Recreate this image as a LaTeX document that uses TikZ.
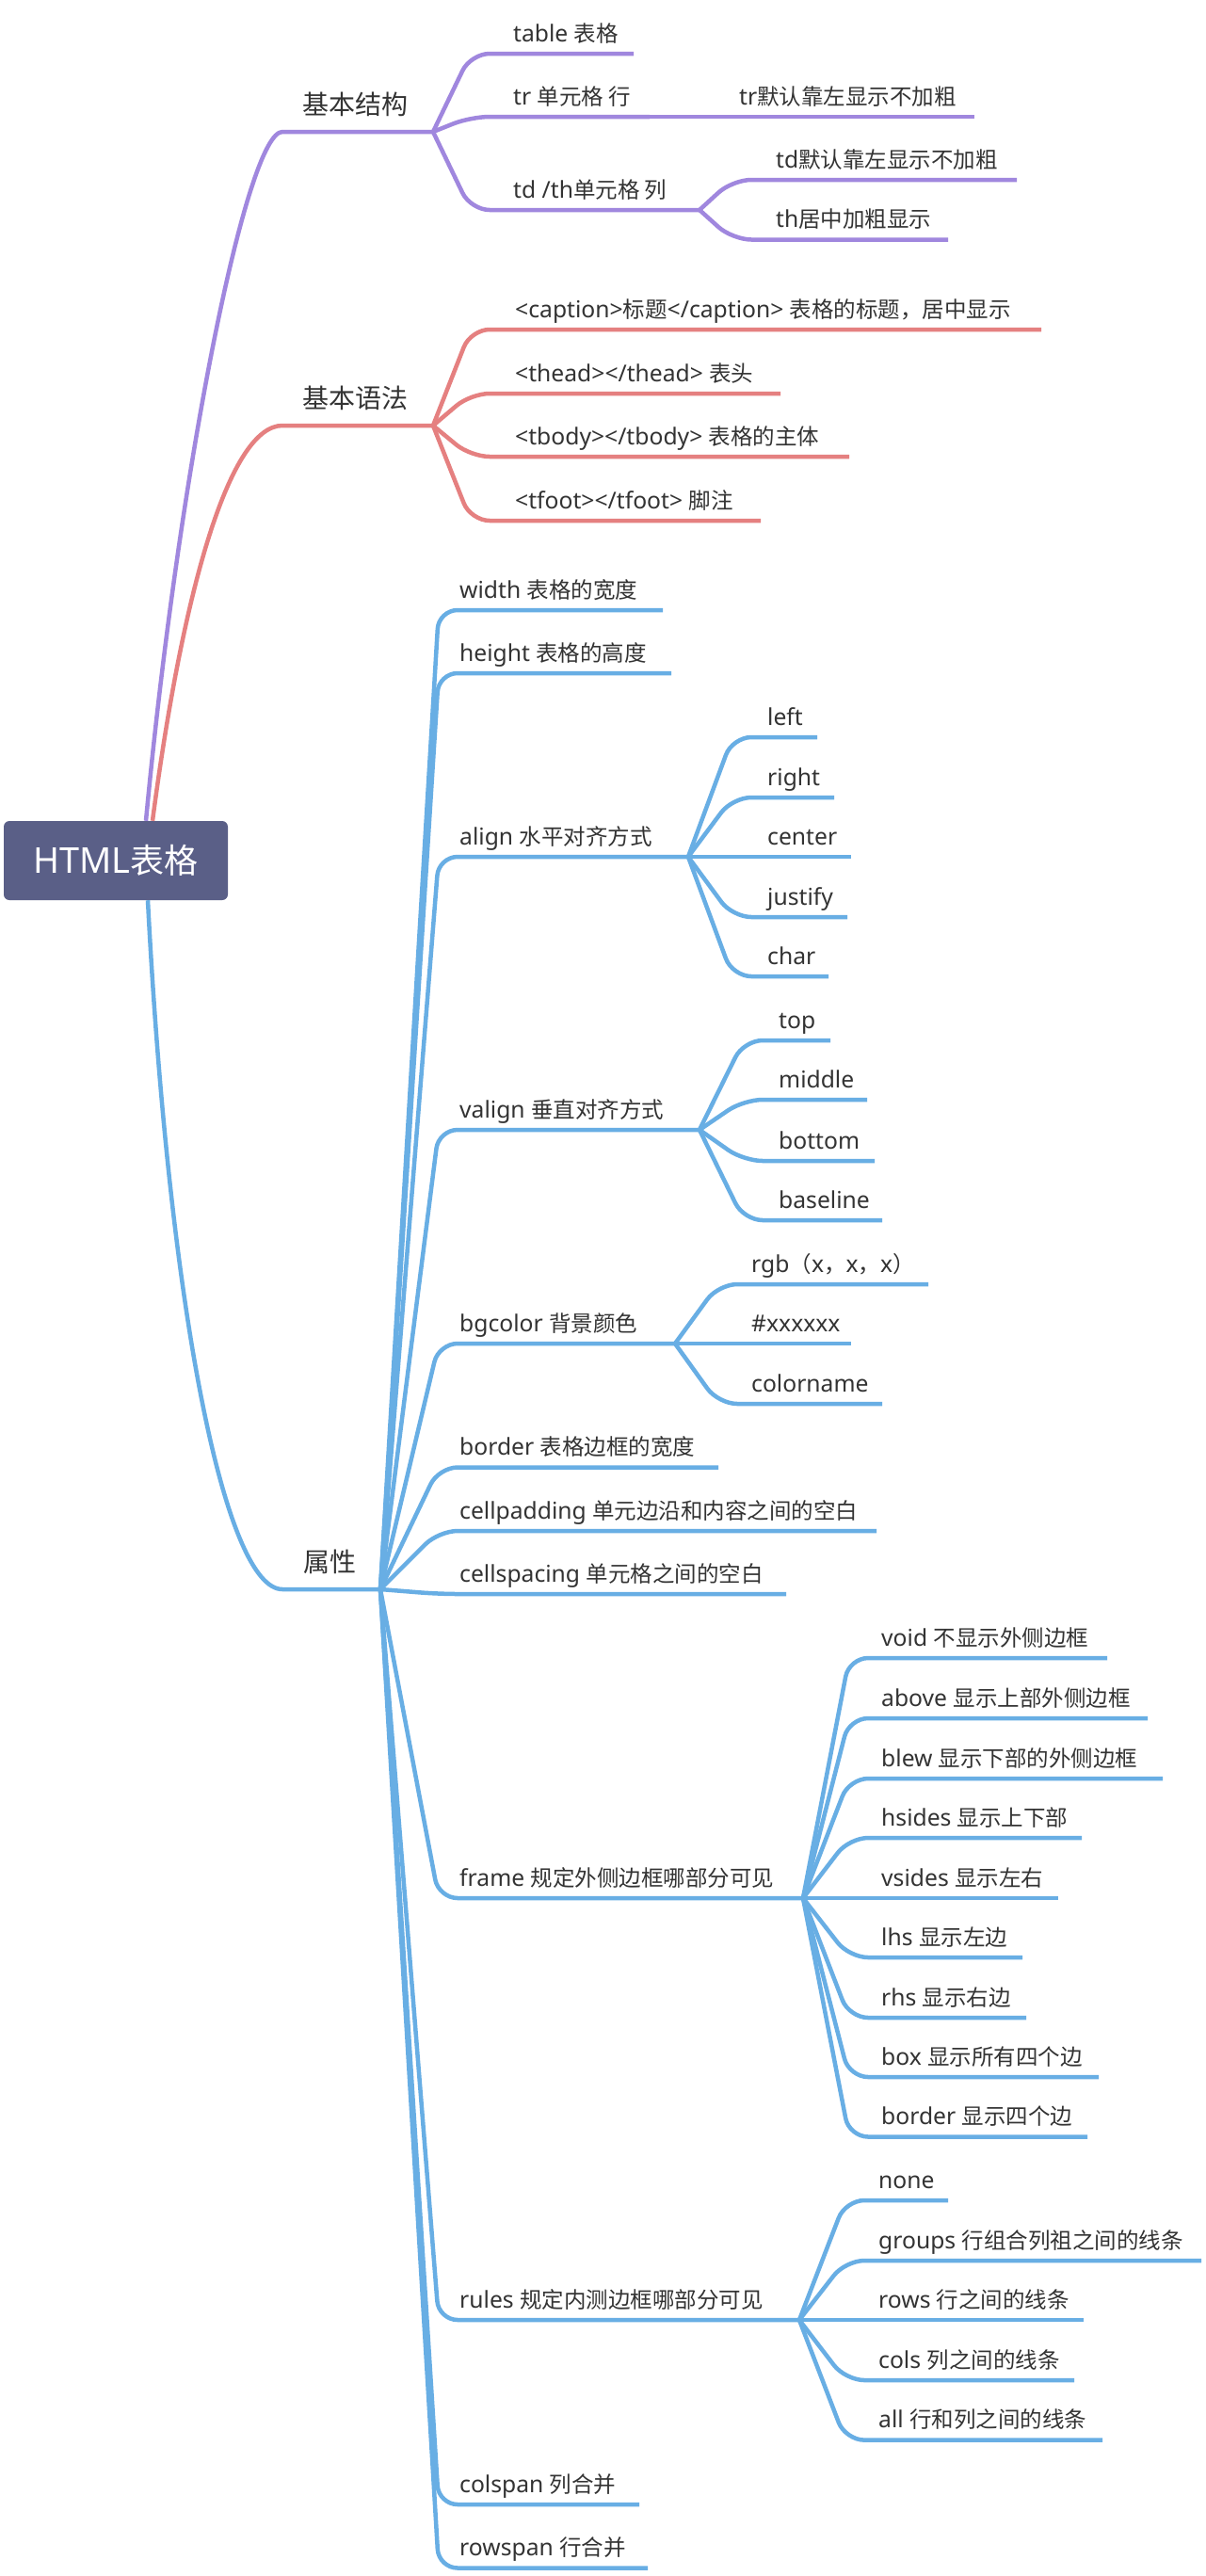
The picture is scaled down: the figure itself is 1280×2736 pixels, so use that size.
\documentclass[tikz,border=0pt]{standalone}
\usepackage{fontspec}
\setmainfont{Noto Sans CJK SC}
\newfontfamily\lat[Scale=1.05]{Noto Sans}
\definecolor{pur}{HTML}{A087DE}
\definecolor{mmred}{HTML}{E58080}
\definecolor{mmblue}{HTML}{68AEE4}
\definecolor{rootc}{HTML}{5A5F87}
\definecolor{txt}{HTML}{333333}
\tikzset{
  conn/.style={line width=4.5pt, rounded corners=20pt, line join=round},
  trunk/.style={line width=4.5pt, line join=round},
  leaf/.style={font=\fontsize{23.5}{28}\selectfont, text=txt, inner sep=0pt, anchor=base west},
  lone/.style={font=\fontsize{28}{32}\selectfont, text=txt, inner sep=0pt, anchor=base west},
  rootbox/.style={fill=rootc, rounded corners=6pt, minimum width=238pt, minimum height=84pt,
    text=white, font=\fontsize{36}{40}\selectfont, inner sep=0pt}
}
\newcommand\mmsub[8]{%
  \coordinate (#1-c) at (#4,#5);
  \coordinate (#1-e) at (#6,#5);
  \draw[conn,#3] (#2) -- (#1-c) -- (#1-e);
  \node[leaf] (#1) at (#7,#5-13) {#8};
}
\begin{document}
\begin{tikzpicture}[x=1pt,y=-1pt]
\useasboundingbox (0,0) rectangle (1280,2736);
\fill[white] (0,0) rectangle (1280,2736);

% root
\node[rootbox] (root) at (123,914) {{\lat HTML}表格};

% level 1
\coordinate (jg-s) at (300,140);
\coordinate (jg-e) at (460,140);
\coordinate (yf-s) at (300,452);
\coordinate (yf-e) at (460,452);
\coordinate (sx-s) at (300,1688);
\coordinate (sx-e) at (404,1688);

\draw[trunk,pur] ([xshift=32pt]root.north) .. controls (190,500) and (262,140) .. (jg-s) -- (jg-e);
\draw[trunk,mmred] ([xshift=39pt]root.north) .. controls (195,620) and (245,452) .. (yf-s) -- (yf-e);
\draw[trunk,mmblue] ([xshift=34pt]root.south) .. controls (180,1400) and (240,1688) .. (sx-s) -- (sx-e);

\node[lone] (jg) at (321,121) {基本结构};
\node[lone] (yf) at (321,433) {基本语法};
\node[lone] (sx) at (322,1669) {属性};

% 基本结构
\mmsub{table}{jg-e}{pur}{500}{57}{673}{545}{{\lat table }表格}
\mmsub{tr}{jg-e}{pur}{500}{124}{690}{545}{{\lat tr }单元格 行}
\mmsub{td}{jg-e}{pur}{500}{223}{743}{545}{{\lat td /th}单元格 列}
\mmsub{trd}{tr-e}{pur}{720}{124}{1035}{785}{{\lat tr}默认靠左显示不加粗}
\mmsub{tdd}{td-e}{pur}{778}{191}{1080}{824}{{\lat td}默认靠左显示不加粗}
\mmsub{thd}{td-e}{pur}{778}{254.5}{1007}{824}{{\lat th}居中加粗显示}

% 基本语法
\mmsub{cap}{yf-e}{mmred}{500}{350}{1106}{547}{{\lat <caption>}标题{\lat </caption> }表格的标题，居中显示}
\mmsub{thead}{yf-e}{mmred}{500}{418}{829}{547}{{\lat <thead></thead> }表头}
\mmsub{tbody}{yf-e}{mmred}{500}{485}{902}{547}{{\lat <tbody></tbody> }表格的主体}
\mmsub{tfoot}{yf-e}{mmred}{500}{553}{808}{547}{{\lat <tfoot></tfoot> }脚注}

% 属性
\mmsub{width}{sx-e}{mmblue}{466}{648}{704}{488}{{\lat width }表格的宽度}
\mmsub{height}{sx-e}{mmblue}{466}{715}{713}{488}{{\lat height }表格的高度}
\mmsub{align}{sx-e}{mmblue}{466}{910}{731}{488}{{\lat align }水平对齐方式}
\mmsub{valign}{sx-e}{mmblue}{466}{1200}{743}{488}{{\lat valign }垂直对齐方式}
\mmsub{bg}{sx-e}{mmblue}{466}{1427}{717}{488}{{\lat bgcolor }背景颜色}
\mmsub{border}{sx-e}{mmblue}{466}{1558.5}{763}{488}{{\lat border }表格边框的宽度}
\mmsub{cpad}{sx-e}{mmblue}{466}{1626}{931}{488}{{\lat cellpadding }单元边沿和内容之间的空白}
\mmsub{cspc}{sx-e}{mmblue}{466}{1693}{835}{488}{{\lat cellspacing }单元格之间的空白}
\mmsub{frame}{sx-e}{mmblue}{466}{2016}{853}{488}{{\lat frame }规定外侧边框哪部分可见}
\mmsub{rules}{sx-e}{mmblue}{466}{2464}{849}{488}{{\lat rules }规定内测边框哪部分可见}
\mmsub{cspan}{sx-e}{mmblue}{466}{2660}{679}{488}{{\lat colspan }列合并}
\mmsub{rspan}{sx-e}{mmblue}{466}{2727.5}{688}{488}{{\lat rowspan }行合并}

% align
\mmsub{al-left}{align-e}{mmblue}{778}{783}{868}{815}{{\lat left}}
\mmsub{al-right}{align-e}{mmblue}{778}{847}{886}{815}{{\lat right}}
\mmsub{al-center}{align-e}{mmblue}{778}{910}{904}{815}{{\lat center}}
\mmsub{al-justify}{align-e}{mmblue}{778}{974}{900}{815}{{\lat justify}}
\mmsub{al-char}{align-e}{mmblue}{778}{1037}{880}{815}{{\lat char}}

% valign
\mmsub{va-top}{valign-e}{mmblue}{790}{1105}{882}{827}{{\lat top}}
\mmsub{va-middle}{valign-e}{mmblue}{790}{1168}{921}{827}{{\lat middle}}
\mmsub{va-bottom}{valign-e}{mmblue}{790}{1233}{929}{827}{{\lat bottom}}
\mmsub{va-baseline}{valign-e}{mmblue}{790}{1296}{937}{827}{{\lat baseline}}

% bgcolor
\mmsub{bg-rgb}{bg-e}{mmblue}{763}{1364}{986}{798}{{\lat rgb}（{\lat x}，{\lat x}，{\lat x}）}
\mmsub{bg-hex}{bg-e}{mmblue}{763}{1427}{904}{798}{{\lat \#xxxxxx}}
\mmsub{bg-name}{bg-e}{mmblue}{763}{1491}{937}{798}{{\lat colorname}}

% frame
\mmsub{fr-void}{frame-e}{mmblue}{902}{1761}{1176}{936}{{\lat void }不显示外侧边框}
\mmsub{fr-above}{frame-e}{mmblue}{902}{1825}{1219}{936}{{\lat above }显示上部外侧边框}
\mmsub{fr-blew}{frame-e}{mmblue}{902}{1889}{1235}{936}{{\lat blew }显示下部的外侧边框}
\mmsub{fr-hsides}{frame-e}{mmblue}{902}{1952}{1149}{936}{{\lat hsides }显示上下部}
\mmsub{fr-vsides}{frame-e}{mmblue}{902}{2016}{1124}{936}{{\lat vsides }显示左右}
\mmsub{fr-lhs}{frame-e}{mmblue}{902}{2079}{1086}{936}{{\lat lhs }显示左边}
\mmsub{fr-rhs}{frame-e}{mmblue}{902}{2143}{1090}{936}{{\lat rhs }显示右边}
\mmsub{fr-box}{frame-e}{mmblue}{902}{2206}{1167}{936}{{\lat box }显示所有四个边}
\mmsub{fr-border}{frame-e}{mmblue}{902}{2269.5}{1155}{936}{{\lat border }显示四个边}

% rules
\mmsub{ru-none}{rules-e}{mmblue}{898}{2337}{1007}{933}{{\lat none}}
\mmsub{ru-groups}{rules-e}{mmblue}{898}{2401}{1276}{933}{{\lat groups }行组合列祖之间的线条}
\mmsub{ru-rows}{rules-e}{mmblue}{898}{2464}{1151}{933}{{\lat rows }行之间的线条}
\mmsub{ru-cols}{rules-e}{mmblue}{898}{2528}{1141}{933}{{\lat cols }列之间的线条}
\mmsub{ru-all}{rules-e}{mmblue}{898}{2591.6}{1171}{933}{{\lat all }行和列之间的线条}
\end{tikzpicture}
\end{document}
